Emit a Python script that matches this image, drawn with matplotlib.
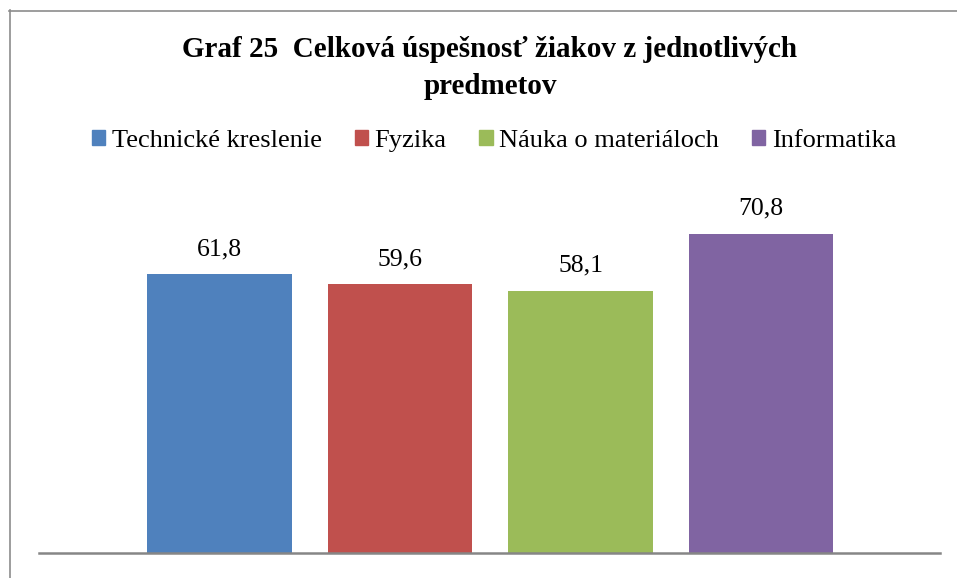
import matplotlib
matplotlib.use("Agg")
import matplotlib.pyplot as plt
from matplotlib.lines import Line2D
from matplotlib.patches import Rectangle

# data
subjects = ["Technické kreslenie", "Fyzika", "Náuka o materiáloch", "Informatika"]
success = [61.8, 59.6, 58.1, 70.8]
labels = ["61,8", "59,6", "58,1", "70,8"]
colors = ["#4F81BD", "#C0504D", "#9BBB59", "#8064A2"]

W, H = 957, 578
plt.rcParams["font.family"] = ["Liberation Serif", "DejaVu Serif"]

fig = plt.figure(figsize=(W / 100, H / 100), dpi=100)

# chart frame (only left and top edge visible in the reference)
fig.add_artist(Line2D([9.5 / W, 9.5 / W], [0, 1 - 10 / H], color="#8c8c8c", lw=1.2))
fig.add_artist(Line2D([9 / W, 1], [1 - 10.5 / H, 1 - 10.5 / H], color="#8c8c8c", lw=1.2))

ax = fig.add_axes([39 / W, (H - 553) / H, (940 - 39) / W, (553 - 192) / H])
x = range(len(subjects))
bars = ax.bar(x, success, width=0.80, color=colors)
ax.set_xlim(-1.0, 3.99)
ax.set_ylim(0, 80)

for b, lab in zip(bars, labels):
    ax.annotate(lab, (b.get_x() + b.get_width() / 2, b.get_height()),
                xytext=(0, 10), textcoords="offset points",
                ha="center", va="bottom", fontsize=18.5)

for s in ["top", "right", "left"]:
    ax.spines[s].set_visible(False)
ax.spines["bottom"].set_color("#868686")
ax.spines["bottom"].set_linewidth(1.8)
ax.set_yticks([])
ax.set_xticks([])

fig.text(490 / W, 1 - 68 / H, "Graf 25  Celková úspešnosť žiakov z jednotlivých\npredmetov",
         ha="center", va="center", fontsize=21, fontweight="bold", linespacing=1.45)

handles = [Rectangle((0, 0), 1, 1, color=c) for c in colors]
fig.legend(handles, subjects, loc="center", bbox_to_anchor=(494 / W, 1 - 141 / H),
           ncol=4, frameon=False, fontsize=19, handlelength=0.5, handleheight=0.5,
           handletextpad=0.25, columnspacing=1.25)

fig.savefig("out.png", dpi=100)
